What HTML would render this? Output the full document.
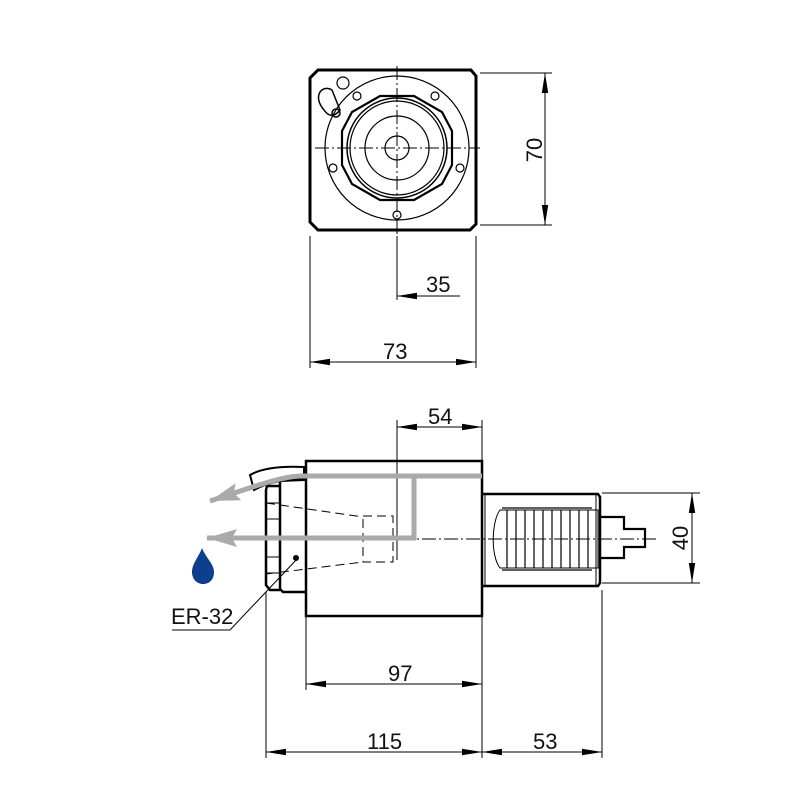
<!DOCTYPE html>
<html><head><meta charset="utf-8"><style>
html,body{margin:0;padding:0;background:#fff;width:800px;height:800px;overflow:hidden}
text{font-family:"Liberation Sans",sans-serif;font-size:22px;fill:#111}
</style></head><body>
<svg width="800" height="800" viewBox="0 0 800 800" xmlns="http://www.w3.org/2000/svg">
<defs>
<marker id="a" viewBox="0 0 20 8" refX="20" refY="4" markerWidth="20" markerHeight="8" markerUnits="userSpaceOnUse" orient="auto-start-reverse"><path d="M0,0.8 L20,4 L0,7.2 Z" fill="#000"/></marker>
<marker id="g" viewBox="0 0 30 18" refX="30" refY="9" markerWidth="30" markerHeight="18" markerUnits="userSpaceOnUse" orient="auto"><path d="M0,0 L30,9 L0,18 L5,9 Z" fill="#aaa"/></marker>
</defs>
<g fill="none" stroke="#000">
<!-- TOP VIEW -->
<path d="M318,70 L471,70 L476,76 L476,224 L470,230 L318,230 L310,222 L310,78 Z" stroke-width="3"/>
<circle cx="397" cy="148" r="72" stroke-width="1.2"/>
<path d="M380,96 L414,96 L442,112 L452,131 L452,165 L442,184 L414,200 L380,200 L352,184 L342,165 L342,131 L352,112 Z" stroke-width="2.2"/>
<circle cx="397" cy="148" r="50" stroke-width="1.5"/>
<circle cx="397" cy="148" r="47" stroke-width="1.2"/>
<circle cx="397" cy="148" r="32" stroke-width="1.2"/>
<circle cx="397" cy="148" r="12" stroke-width="1.2"/>
<circle cx="357" cy="96" r="4" stroke-width="1.2"/>
<circle cx="435" cy="96" r="4" stroke-width="1.2"/>
<circle cx="333" cy="168" r="4" stroke-width="1.2"/>
<circle cx="460" cy="168" r="4" stroke-width="1.2"/>
<circle cx="397" cy="215" r="4" stroke-width="1.2"/>
<circle cx="343" cy="83" r="6" stroke-width="1.2"/>
<path d="M324,110 C312,96 322,84 332,90 L340,110 C334,118 328,116 324,110 Z" stroke-width="1.5"/>
<circle cx="336" cy="113" r="4" stroke-width="1.5"/>
<path d="M315,148 L480,148 M397,66 L397,236" stroke-width="1" stroke-dasharray="14,3,2,3"/>
<!-- dims top -->
<path d="M480,73 L552,73 M480,225 L552,225" stroke-width="1"/>
<path d="M545,73 L545,225" stroke-width="1" marker-start="url(#a)" marker-end="url(#a)"/>
<path d="M397,236 L397,300" stroke-width="1"/>
<path d="M397,296 L460,296" stroke-width="1" marker-start="url(#a)"/>
<path d="M310,236 L310,368 M476,236 L476,368" stroke-width="1"/>
<path d="M310,362 L476,362" stroke-width="1" marker-start="url(#a)" marker-end="url(#a)"/>
<!-- SIDE VIEW -->
<rect x="306" y="461" width="176" height="155" stroke-width="2.5"/>
<path d="M306,479 L282,479 L280,482 L280,589 L283,592 L306,592" stroke-width="2.5"/>
<path d="M280,486 L267,486 L266,490 L266,585 L270,590 L280,590" stroke-width="2.5"/>
<path d="M266,503 L280,503 M266,519 L280,519 M266,537 L280,537 M266,557 L280,557 M266,573 L280,573" stroke-width="1"/>
<path d="M250,475 C262,468 282,466 304,467 L304,480 L280,481 C268,483 260,487 254,490 Z" stroke-width="2"/>
<!-- dashed taper -->
<path d="M266,503 L363,517 M266,574 L363,562" stroke-width="1" stroke-dasharray="9,5"/>
<path d="M363,516 L393,516 L393,562 L363,562 Z" stroke-width="1" stroke-dasharray="9,5"/>
<!-- shank -->
<path d="M482,494 L598,494 L600,497 L600,583 L598,586 L482,586" stroke-width="2.5"/>
<path d="M485,494 L485,586 M596,494 L596,586" stroke-width="1"/>
<path d="M500,510 C492,520 490,555 500,568 L598,568 L598,510 Z" stroke-width="1"/>
<path d="M502,508 L592,508 M502,570 L592,570 M507,510 L507,568 M516,510 L516,568 M525,510 L525,568 M534,510 L534,568 M543,510 L543,568 M552,510 L552,568 M561,510 L561,568 M570,510 L570,568 M579,510 L579,568 M588,510 L588,568" stroke-width="1.2"/>
<path d="M600,517 L624,517 L624,529 L645,529 L645,547 L624,547 L624,558 L600,558" stroke-width="2.2"/>
<path d="M400,539 L656,539" stroke-width="1" stroke-dasharray="14,3,2,3"/>
<path d="M397,420 L397,560" stroke-width="1"/>
<!-- gray coolant -->
<path d="M482,476 L300,476 C280,477 262,484 210,501" stroke="#aaa" stroke-width="5" marker-end="url(#g)"/>
<path d="M414,476 L414,538 L207,538" stroke="#aaa" stroke-width="5" marker-end="url(#g)"/>
<!-- ER-32 leader -->
<path d="M172,630 L230,630 L298,558" stroke-width="1"/>
<circle cx="296" cy="558" r="2.5" fill="#000"/>
<!-- dims side -->
<path d="M482,420 L482,470" stroke-width="1"/>
<path d="M397,427 L482,427" stroke-width="1" marker-start="url(#a)" marker-end="url(#a)"/>
<path d="M602,493 L700,493 M602,583 L700,583" stroke-width="1"/>
<path d="M692,493 L692,583" stroke-width="1" marker-start="url(#a)" marker-end="url(#a)"/>
<path d="M306,616 L306,690 M482,616 L482,758 M266,592 L266,758 M602,590 L602,758" stroke-width="1"/>
<path d="M306,684 L482,684" stroke-width="1" marker-start="url(#a)" marker-end="url(#a)"/>
<path d="M266,752 L482,752" stroke-width="1" marker-start="url(#a)" marker-end="url(#a)"/>
<path d="M482,752 L602,752" stroke-width="1" marker-start="url(#a)" marker-end="url(#a)"/>
</g>
<path d="M202,548 C198,558 192,564 192,572 C192,580 198,584 203,584 C209,584 214,580 214,572 C214,564 206,558 202,548 Z" fill="#0d3f8c"/>
<text x="426" y="292">35</text>
<text x="383" y="359">73</text>
<text transform="translate(542,150) rotate(-90)" text-anchor="middle">70</text>
<text x="428" y="424">54</text>
<text transform="translate(688,538) rotate(-90)" text-anchor="middle">40</text>
<text x="388" y="681">97</text>
<text x="367" y="749">115</text>
<text x="533" y="749">53</text>
<text x="171" y="624">ER-32</text>
</svg>
</body></html>
